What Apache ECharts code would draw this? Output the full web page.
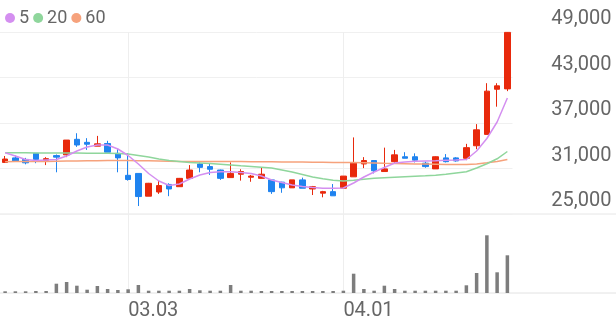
<!DOCTYPE html>
<html>
<head>
<meta charset="utf-8">
<script src="https://cdn.jsdelivr.net/npm/echarts@6/dist/echarts.min.js"></script>
<style>
html,body{margin:0;padding:0;background:#fff;}
#c{width:616px;height:321px;}
</style>
</head>
<body>
<div id="c"></div>
<script>
const categories = ["02.09","02.10","02.11","02.12","02.13","02.19","02.20","02.23","02.24","02.25","02.26","02.27",
"03.03","03.04","03.05","03.06","03.09","03.10","03.11","03.12","03.13","03.16","03.17","03.18","03.19","03.20",
"03.23","03.24","03.25","03.26","03.27","03.30","03.31",
"04.01","04.02","04.03","04.06","04.07","04.08","04.09","04.10","04.13","04.14","04.15","04.16","04.17","04.20","04.21","04.22","04.23"];

// [open, close, low, high]
const ohlc = [
[31800,32250,31800,32650],[32400,32000,31900,32700],[32200,31750,31550,32400],[33000,32200,31700,33050],
[32100,32300,31450,32500],[32700,32500,30500,32850],[32800,34750,32500,34750],[34850,34100,33850,35650],
[34450,34200,33450,35000],[33950,34250,33950,35300],[34300,33150,33150,34650],[33000,32400,30500,33550],
[30100,29550,29400,33000],[30350,27300,26050,30350],[27350,29050,27350,29100],[27900,28750,27650,29350],
[28900,28300,27350,29050],[28600,29700,28600,29750],[29700,30800,29700,31450],[31600,31150,30500,31800],
[31250,30900,30150,31700],[30800,29700,29500,30850],[29800,30350,29800,31800],[30250,30600,29400,30900],
[29850,30000,29250,30150],[29700,30250,29700,31100],[29500,27950,27650,29500],[29200,28450,27800,29250],
[28450,29500,28450,29500],[29500,28400,28400,29800],[28300,28600,27500,28700],[27750,27950,27200,28050],
[27950,27400,27400,28950],[28400,30000,28400,30000],[29900,31700,29900,35100],[31600,32050,31050,32500],
[32050,30700,30350,32050],[30600,30950,30600,33750],[31900,32800,31700,33450],[32550,32350,32350,33150],
[32550,32100,31800,33000],[31700,31250,31100,31900],[30950,32550,30950,32600],[32400,31900,31800,32900],
[32400,32000,31900,32500],[32350,33750,32100,34250],[34000,36100,33550,36850],[35500,41200,35500,42250],
[41450,41900,39150,42250],[41500,48950,41200,49000]
];

const ma5 = [33084,32649,32187,32055,32121,32187,32649,33308,33836,34100,34100,33572,32715,31594,30341,29351,
28758,28956,29615,30143,30472,30578,30578,30472,30341,30011,29483,29153,28824,28626,28494,28388,28388,28428,
29088,29879,30538,31132,31725,31857,31950,31989,32029,32082,32121,32187,33308,34957,37133,40299];

const ma20 = [33084,33084,33071,33058,33044,33044,33031,33031,33018,33005,33005,32965,32913,32715,32517,32253,
32055,31923,31791,31725,31659,31567,31462,31356,31264,31171,31066,30802,30538,30209,29879,29641,29444,29351,
29444,29589,29707,29787,29852,29918,29984,30037,30103,30235,30406,30578,31066,31620,32280,33242];

const ma60 = [31897,31910,31910,31923,31936,31963,31989,32002,32016,32029,32042,32055,32055,32029,32016,31989,
31963,31936,31923,31923,31923,31923,31910,31910,31897,31897,31884,31871,31857,31844,31831,31818,31805,31791,
31778,31752,31725,31686,31660,31633,31607,31594,31567,31541,31528,31541,31607,31752,31923,32174];

const volume = [17,17,17,20,20,93,110,73,33,70,40,30,37,80,23,23,23,23,40,27,23,23,80,23,23,
20,20,20,20,20,20,20,20,23,193,40,23,73,40,23,23,23,23,23,23,77,200,577,207,377];

const priceTicks = {min:25000, max:49000, step:6000};
const labelIdx = ["03.03","04.01"];

const UP = '#e8290c', DOWN = '#1f83ef';
const FONT = 'Roboto';

const chart = echarts.init(document.getElementById('c'), null, {renderer:'canvas'});
const showSplit = (idx, val) => labelIdx.indexOf(categories[idx]) >= 0;

chart.setOption({
  animation:false,
  backgroundColor:'#fff',
  legend:{
    data:['5','20','60'],
    left:0, top:4,
    icon:'circle', itemWidth:10, itemHeight:10, itemGap:4,
    textStyle:{fontSize:18, color:'#666', fontFamily:FONT, padding:[0,0,0,-1]}
  },
  grid:[
    {left:0, top:32, width:512.5, height:182},
    {left:0, top:214, width:512.5, height:79}
  ],
  xAxis:[
    {type:'category', data:categories, gridIndex:0, boundaryGap:true,
     axisLine:{show:false}, axisTick:{show:false}, axisLabel:{show:false},
     splitLine:{show:true, interval:showSplit, alignWithLabel:true, lineStyle:{color:'#eeeeee', width:1}}},
    {type:'category', data:categories, gridIndex:1, boundaryGap:true,
     axisLine:{show:false}, axisTick:{show:false},
     axisLabel:{show:true, interval:showSplit, align:'left', margin:8, fontSize:20, color:'#666', fontFamily:FONT},
     splitLine:{show:true, interval:showSplit, alignWithLabel:true, lineStyle:{color:'#eeeeee', width:1}}}
  ],
  yAxis:[
    {type:'value', gridIndex:0, position:'right', min:priceTicks.min, max:priceTicks.max, interval:priceTicks.step,
     axisLine:{show:false}, axisTick:{show:false},
     axisLabel:{show:true, align:'right', verticalAlign:'bottom', margin:99, fontSize:20, color:'#666', fontFamily:FONT,
       padding:[0,0,3,0],
       formatter:v=>v.toLocaleString('en-US')},
     splitLine:{show:true, lineStyle:{color:'#f0f0f0', width:1}}},
    {type:'value', gridIndex:1, min:0, max:790, show:false, splitLine:{show:false}}
  ],
  graphic:[
    {type:'line', shape:{x1:0, y1:214, x2:616, y2:214}, style:{stroke:'#e6e6e6', lineWidth:1}, silent:true},
    {type:'line', shape:{x1:0, y1:293, x2:616, y2:293}, style:{stroke:'#e2e2e2', lineWidth:1}, silent:true}
  ],
  series:[
    {name:'price', type:'candlestick', xAxisIndex:0, yAxisIndex:0, data:ohlc, barWidth:6,
     itemStyle:{color:UP, color0:DOWN, borderColor:UP, borderColor0:DOWN, borderWidth:1}},
    {name:'60', type:'line', xAxisIndex:0, yAxisIndex:0, data:ma60, showSymbol:false, symbol:'none',
     lineStyle:{color:'#f6a27c', width:1.5}, itemStyle:{color:'#f6a27c'}, z:3},
    {name:'20', type:'line', xAxisIndex:0, yAxisIndex:0, data:ma20, showSymbol:false, symbol:'none',
     lineStyle:{color:'#8fd69c', width:1.5}, itemStyle:{color:'#8fd69c'}, z:3},
    {name:'5', type:'line', xAxisIndex:0, yAxisIndex:0, data:ma5, showSymbol:false, symbol:'none',
     lineStyle:{color:'#d48ff0', width:1.5}, itemStyle:{color:'#d48ff0'}, z:3},
    {name:'vol', type:'bar', xAxisIndex:1, yAxisIndex:1, data:volume, barWidth:3.5,
     itemStyle:{color:'#7d7d7d'}}
  ]
});
</script>
</body>
</html>
